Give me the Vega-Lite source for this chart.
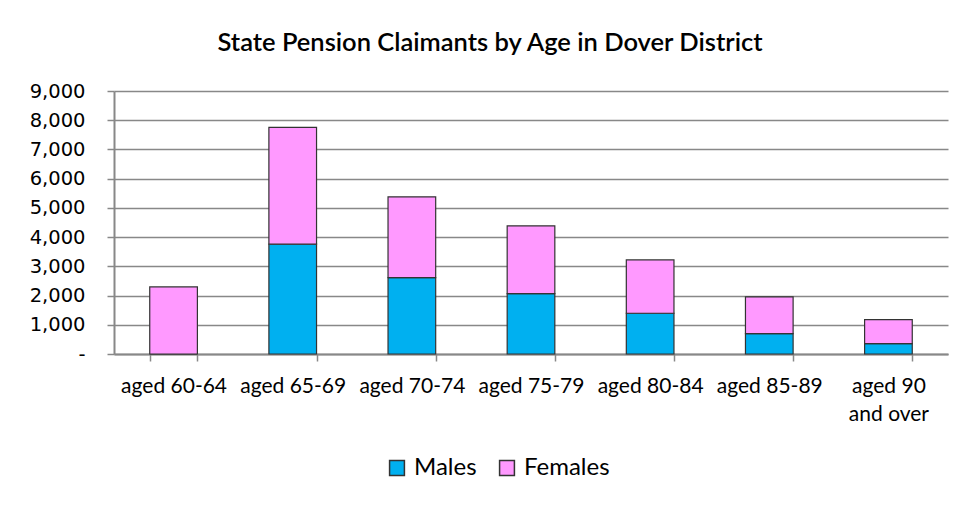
{
  "$schema": "https://vega.github.io/schema/vega-lite/v6.json",
  "width": 834,
  "height": 263,
  "autosize": {"type": "none"},
  "padding": {"left": 114, "top": 91, "right": 31, "bottom": 153},
  "background": "white",
  "title": {
    "text": "State Pension Claimants by Age in Dover District",
    "font": "Lato",
    "fontSize": 25.5,
    "fontWeight": 600,
    "color": "#000000",
    "anchor": "middle",
    "dx": -41,
    "offset": 25
  },
  "data": {
    "values": [
      {"age": "aged 60-64", "sex": "Males", "ord": 1, "count": 0},
      {"age": "aged 60-64", "sex": "Females", "ord": 2, "count": 2295},
      {"age": "aged 65-69", "sex": "Males", "ord": 1, "count": 3758},
      {"age": "aged 65-69", "sex": "Females", "ord": 2, "count": 3998},
      {"age": "aged 70-74", "sex": "Males", "ord": 1, "count": 2617},
      {"age": "aged 70-74", "sex": "Females", "ord": 2, "count": 2762},
      {"age": "aged 75-79", "sex": "Males", "ord": 1, "count": 2069},
      {"age": "aged 75-79", "sex": "Females", "ord": 2, "count": 2316},
      {"age": "aged 80-84", "sex": "Males", "ord": 1, "count": 1394},
      {"age": "aged 80-84", "sex": "Females", "ord": 2, "count": 1826},
      {"age": "aged 85-89", "sex": "Males", "ord": 1, "count": 699},
      {"age": "aged 85-89", "sex": "Females", "ord": 2, "count": 1254},
      {"age": "aged 90 and over", "sex": "Males", "ord": 1, "count": 356},
      {"age": "aged 90 and over", "sex": "Females", "ord": 2, "count": 822}
    ]
  },
  "mark": {"type": "bar", "stroke": "#333333", "strokeWidth": 1.2},
  "encoding": {
    "x": {
      "field": "age",
      "type": "nominal",
      "sort": null,
      "scale": {"paddingInner": 0.6, "paddingOuter": 0.3},
      "axis": {
        "title": null,
        "labelAngle": 0,
        "labelFont": "Lato",
        "labelFontSize": 21,
        "labelColor": "#000000",
        "labelPadding": 14,
        "labelLineHeight": 28,
        "labelExpr": "datum.value == 'aged 90 and over' ? ['aged 90', 'and over'] : datum.value",
        "tickBand": "extent",
        "tickSize": 7,
        "tickColor": "#888888",
        "tickWidth": 1.5,
        "domainColor": "#888888",
        "domainWidth": 2
      }
    },
    "y": {
      "field": "count",
      "type": "quantitative",
      "stack": "zero",
      "scale": {"domain": [0, 9000], "nice": false},
      "axis": {
        "title": null,
        "values": [0, 1000, 2000, 3000, 4000, 5000, 6000, 7000, 8000, 9000],
        "labelExpr": "datum.value == 0 ? '-' : format(datum.value, ',')",
        "labelFont": "DejaVu Sans",
        "labelFontSize": 19.5,
        "labelColor": "#000000",
        "labelPadding": 22,
        "tickSize": 7,
        "tickColor": "#888888",
        "tickWidth": 1.5,
        "grid": true,
        "gridColor": "#888888",
        "gridWidth": 1.5,
        "domainColor": "#888888",
        "domainWidth": 2
      }
    },
    "color": {
      "field": "sex",
      "type": "nominal",
      "scale": {"domain": ["Males", "Females"], "range": ["#00B0F0", "#FF99FF"]},
      "legend": {
        "title": null,
        "orient": "none",
        "direction": "horizontal",
        "legendX": 271,
        "legendY": 365,
        "symbolType": "square",
        "symbolSize": 220,
        "symbolStrokeColor": "#333333",
        "symbolStrokeWidth": 1.5,
        "labelFont": "Lato",
        "labelFontSize": 24,
        "labelColor": "#000000",
        "columnPadding": 18,
        "labelOffset": 5
      }
    },
    "order": {"field": "ord", "type": "quantitative"}
  },
  "config": {
    "view": {"stroke": null}
  }
}
